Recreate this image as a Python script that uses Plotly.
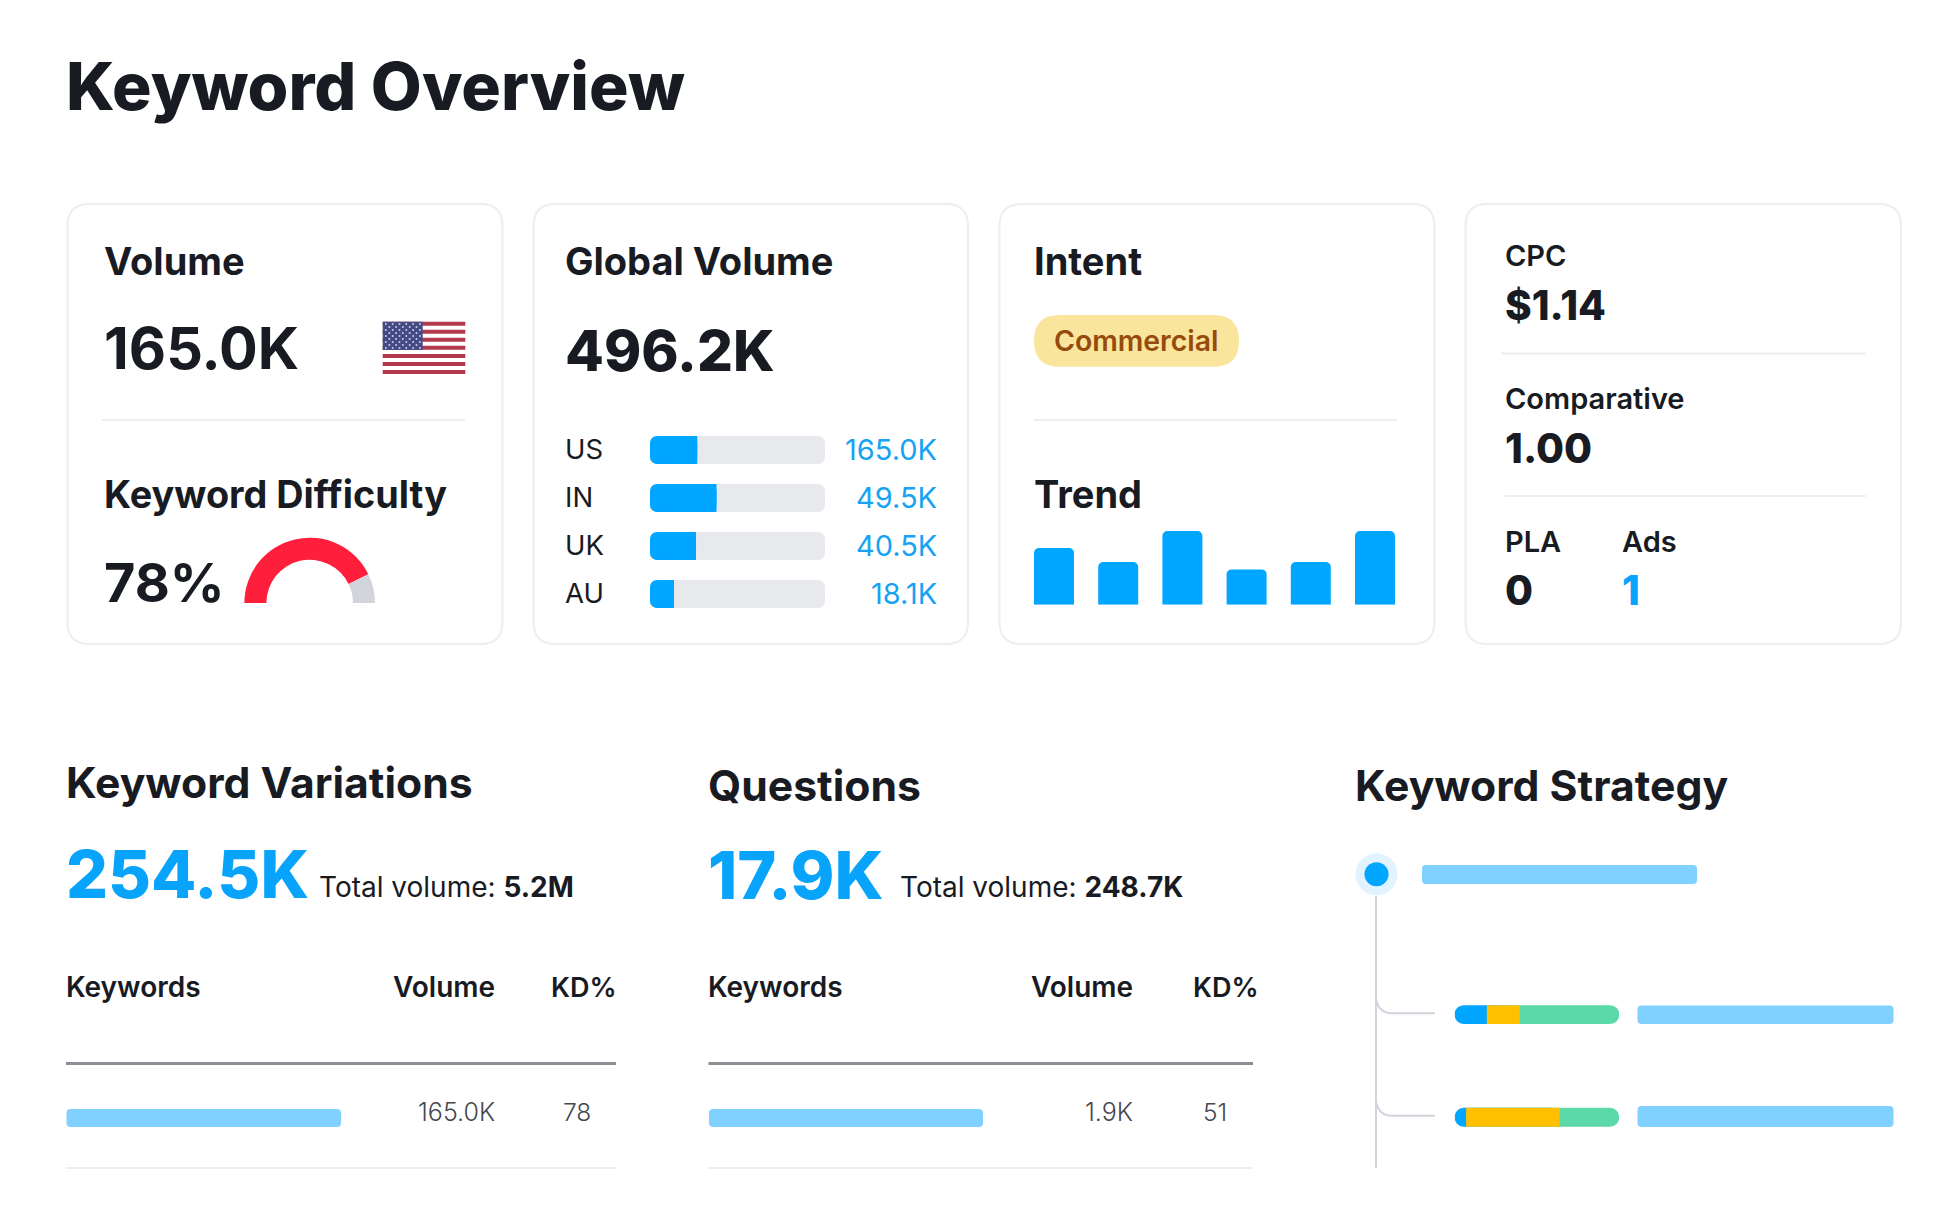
import plotly.graph_objects as go

W, H = 1959, 1215
FONT = "Inter"
INK = "#191b23"
BLUE = "#00a6ff"
LINK = "#17a3f2"
BIG = "#08a4fb"
TRACK = "#e8e9ec"
PALE = "#80d1ff"
RULE = "#eceef0"
GREY = "#d1d4db"

# ---- data ----
countries = ["US", "IN", "UK", "AU"]
country_labels = ["165.0K", "49.5K", "40.5K", "18.1K"]
country_share = [0.27, 0.38, 0.263, 0.137]
trend_values = [0.77, 0.58, 1.0, 0.48, 0.58, 1.0]
trend_months = ["m1", "m2", "m3", "m4", "m5", "m6"]
gauge_values = [85.5, 14.5, 100]
gauge_colors = ["#ff1f3d", GREY, "rgba(0,0,0,0)"]
strategy_rows = ["row 1", "row 2"]
strategy_blue = [0.196, 0.07]
strategy_yellow = [0.20, 0.568]
strategy_green = [0.604, 0.362]


def px(x):
    return x / W


def py(y):
    return 1 - y / H


def domx(a, b):
    return [a / W, b / W]


def domy(a, b):
    return [1 - b / H, 1 - a / H]


shapes = []
annotations = []


def rrect_path(x0, y0, x1, y1, r):
    pts = [
        f"M{px(x0 + r)},{py(y0)}", f"L{px(x1 - r)},{py(y0)}",
        f"Q{px(x1)},{py(y0)} {px(x1)},{py(y0 + r)}", f"L{px(x1)},{py(y1 - r)}",
        f"Q{px(x1)},{py(y1)} {px(x1 - r)},{py(y1)}", f"L{px(x0 + r)},{py(y1)}",
        f"Q{px(x0)},{py(y1)} {px(x0)},{py(y1 - r)}", f"L{px(x0)},{py(y0 + r)}",
        f"Q{px(x0)},{py(y0)} {px(x0 + r)},{py(y0)}", "Z",
    ]
    return " ".join(pts)


def rrect(x0, y0, x1, y1, r, fill="rgba(0,0,0,0)", line=None, lw=0):
    shapes.append(dict(type="path", xref="paper", yref="paper", path=rrect_path(x0, y0, x1, y1, r),
                       fillcolor=fill, line=dict(color=line or "rgba(0,0,0,0)", width=lw), layer="below"))


def rule(x0, x1, y, color=RULE, lw=2):
    shapes.append(dict(type="line", xref="paper", yref="paper", x0=px(x0), x1=px(x1), y0=py(y), y1=py(y),
                       line=dict(color=color, width=lw), layer="below"))


def rect(x0, y0, x1, y1, color):
    shapes.append(dict(type="rect", xref="paper", yref="paper", x0=px(x0), x1=px(x1), y0=py(y0), y1=py(y1),
                       fillcolor=color, line=dict(width=0), layer="below"))


def circle(cx, cy, r, color):
    shapes.append(dict(type="circle", xref="paper", yref="paper", x0=px(cx - r), x1=px(cx + r),
                       y0=py(cy - r), y1=py(cy + r), fillcolor=color, line=dict(width=0), layer="below"))


def txt(x, base, s, size, weight=400, color=INK, anchor="left"):
    annotations.append(dict(
        xref="paper", yref="paper", x=px(x), y=py(base + 0.2412 * size), text=s,
        xanchor=anchor, yanchor="bottom", showarrow=False, borderpad=0, borderwidth=0,
        font=dict(family=FONT, size=size, weight=weight, color=color)))


# ---- cards ----
for x0, x1 in [(67.5, 502.5), (533.5, 968), (999.5, 1434.5), (1465.5, 1901)]:
    rrect(x0, 204, x1, 644, 22, line=RULE, lw=2)

rule(102, 465, 420)
rule(1034, 1397, 420)
rule(1501, 1866, 353.5)
rule(1505, 1866, 496)

# ---- flag ----
fx0, fx1, fy0, fy1 = 382.7, 465.3, 321.7, 374
sh = (fy1 - fy0) / 13
for i in range(0, 13, 2):
    rect(fx0, fy0 + i * sh, fx1, fy0 + (i + 1) * sh, "#b23a4a")
rect(fx0, fy0, 422.7, 350, "#454a85")
for r in range(9):
    n = 6 if r % 2 == 0 else 5
    off = 0 if r % 2 == 0 else 3.4
    for c in range(n):
        circle(fx0 + 3.2 + off + c * 6.8, fy0 + 2.4 + r * 3.0, 1.0, "#c9cbe6")

# ---- texts ----
txt(66, 110, "Keyword Overview", 66, 800)
txt(104, 275, "Volume", 38, 700)
txt(104, 369, "165.0K", 57.5, 700)
txt(104, 507.5, "Keyword Difficulty", 37.8, 700)
txt(104, 601.5, "78%", 54, 700)
txt(565, 275, "Global Volume", 38, 700)
txt(565, 371, "496.2K", 56.5, 800)
txt(1034, 275, "Intent", 38, 700)
txt(1034, 507.5, "Trend", 38, 700)

rrect(1034, 315, 1239, 366.7, 25.8, fill="#fae59c")
txt(1053.5, 351.5, "Commercial", 28.4, 600, "#964b0d")

txt(1505, 266.5, "CPC", 29, 600)
txt(1505, 320, "$1.14", 40.5, 800)
txt(1505, 409, "Comparative", 29, 600)
txt(1505, 463, "1.00", 40.5, 800)
txt(1505, 552, "PLA", 29, 600)
txt(1622, 552, "Ads", 29, 600)
txt(1505, 605, "0", 40.5, 800)
txt(1622, 605, "1", 40.5, 800, BIG)

for i, (c, v) in enumerate(zip(countries, country_labels)):
    b = 459.6 + 48 * i
    txt(565, b, c, 27.5)
    txt(936.5, b, v, 29, 400, LINK, "right")

# lower sections
txt(66, 798, "Keyword Variations", 42.7, 700)
txt(66, 898.5, "254.5K", 66, 800, BIG)
txt(319, 897.5, "Total volume: <b>5.2M</b>", 28)
txt(66, 997.5, "Keywords", 28, 600)
txt(495, 997.5, "Volume", 28, 600, INK, "right")
txt(616.5, 997.5, "KD%", 27, 600, INK, "right")
rule(66, 616, 1063.5, "#8c8e96", 3)
rrect(66.5, 1109, 341, 1127, 4, fill=PALE)
txt(495, 1121, "165.0K", 25, 300, "#44474f", "right")
txt(591, 1121, "78", 24.5, 300, "#44474f", "right")
rule(66, 616, 1168)

txt(708, 800.5, "Questions", 42.7, 700)
txt(708, 898.5, "17.9K", 66.5, 800, BIG)
txt(900, 897.5, "Total volume: <b>248.7K</b>", 28)
txt(708, 997.5, "Keywords", 28, 600)
txt(1132.5, 997.5, "Volume", 28, 600, INK, "right")
txt(1258.5, 997.5, "KD%", 27, 600, INK, "right")
rule(708.5, 1253, 1063.5, "#8c8e96", 3)
rrect(709, 1109, 983, 1127, 4, fill=PALE)
txt(1133, 1121, "1.9K", 25, 300, "#44474f", "right")
txt(1227, 1121, "51", 24.5, 300, "#44474f", "right")
rule(708.5, 1253, 1168)

txt(1355, 800.5, "Keyword Strategy", 42.7, 700)
circle(1376.5, 874.3, 21, "#e0f3ff")
circle(1376.5, 874.3, 12, BLUE)
rule(1376, 1376, 896)
shapes[-1].update(y1=py(1168), line=dict(color=GREY, width=2))
for yb in [1013.3, 1115.7]:
    shapes.append(dict(type="path", xref="paper", yref="paper",
                       path=f"M{px(1376)},{py(yb - 14)} Q{px(1379)},{py(yb)} {px(1392)},{py(yb)} L{px(1435)},{py(yb)}",
                       line=dict(color=GREY, width=2), layer="below"))
rrect(1422, 865, 1697, 884, 4, fill=PALE)
rrect(1637.5, 1005.5, 1893.5, 1024, 4, fill=PALE)
rrect(1637.5, 1106, 1893.5, 1127, 4, fill=PALE)

# ---- traces ----
fig = go.Figure()

# Bars that carry an explicit base are rounded at both ends in plotly.
n = len(countries)
fig.add_trace(go.Bar(y=countries, x=[1] * n, base=[0] * n, orientation="h", width=0.583,
                     marker=dict(color=TRACK, cornerradius=7, line=dict(width=0)),
                     xaxis="x", yaxis="y", hoverinfo="skip"))
# Fill: rounded bar plus a square-ended half so only the left end stays round
fig.add_trace(go.Bar(y=countries, x=country_share, base=[0] * n, orientation="h", width=0.583,
                     marker=dict(color=BLUE, cornerradius=7, line=dict(width=0)), xaxis="x", yaxis="y"))
fig.add_trace(go.Bar(y=countries, x=[v / 2 for v in country_share], base=[v / 2 for v in country_share],
                     orientation="h", width=0.583, marker=dict(color=BLUE, line=dict(width=0)),
                     xaxis="x", yaxis="y", hoverinfo="skip"))

# Trend
fig.add_trace(go.Bar(x=trend_months, y=trend_values, width=0.623,
                     marker=dict(color=BLUE, cornerradius=5, line=dict(width=0)), xaxis="x2", yaxis="y2"))

# Strategy stacked bars: blue and green run under the yellow piece, which squares their inner ends
blue_end = strategy_blue
yellow_end = [a + b for a, b in zip(strategy_blue, strategy_yellow)]
green_span = [1 - b for b in blue_end]
fig.add_trace(go.Bar(y=strategy_rows, x=yellow_end, base=[0, 0], orientation="h", width=0.183,
                     marker=dict(color=BLUE, cornerradius=9, line=dict(width=0)), xaxis="x3", yaxis="y3"))
fig.add_trace(go.Bar(y=strategy_rows, x=green_span, base=blue_end, orientation="h", width=0.183,
                     marker=dict(color="#5bd9a8", cornerradius=9, line=dict(width=0)), xaxis="x3", yaxis="y3"))
fig.add_trace(go.Bar(y=strategy_rows, x=strategy_yellow, base=blue_end, orientation="h", width=0.183,
                     marker=dict(color="#ffc000", line=dict(width=0)), xaxis="x3", yaxis="y3"))

# Difficulty gauge
fig.add_trace(go.Pie(values=gauge_values, sort=False, direction="clockwise", rotation=270, hole=0.663,
                     marker=dict(colors=gauge_colors, line=dict(width=0)), textinfo="none", hoverinfo="skip",
                     showlegend=False, domain=dict(x=domx(244.4, 375), y=domy(537.7, 668.3))))

hidden = dict(visible=False, fixedrange=True)
fig.update_layout(
    width=W, height=H, margin=dict(l=0, r=0, t=0, b=0), autosize=False,
    paper_bgcolor="white", plot_bgcolor="rgba(0,0,0,0)", showlegend=False, barmode="overlay",
    font=dict(family=FONT, color=INK),
    xaxis=dict(domain=domx(650, 825), range=[0, 1], anchor="y", **hidden),
    yaxis=dict(domain=domy(426, 618), categoryorder="array", categoryarray=countries,
               range=[3.5, -0.5], anchor="x", **hidden),
    xaxis2=dict(domain=domx(1021.9, 1407.1), range=[-0.5, 5.5], anchor="y2", **hidden),
    yaxis2=dict(domain=domy(531, 604.8), range=[0, 1], anchor="x2", **hidden),
    xaxis3=dict(domain=domx(1454.6, 1619.2), range=[0, 1], anchor="y3", **hidden),
    yaxis3=dict(domain=domy(963.2, 1168.6), categoryorder="array", categoryarray=strategy_rows,
                range=[1.5, -0.5], anchor="x3", **hidden),
    shapes=shapes, annotations=annotations,
)

fig.write_html("out.html", config={"displayModeBar": False},
               post_script="document.body.style.margin='0';document.documentElement.style.overflow='hidden';")
